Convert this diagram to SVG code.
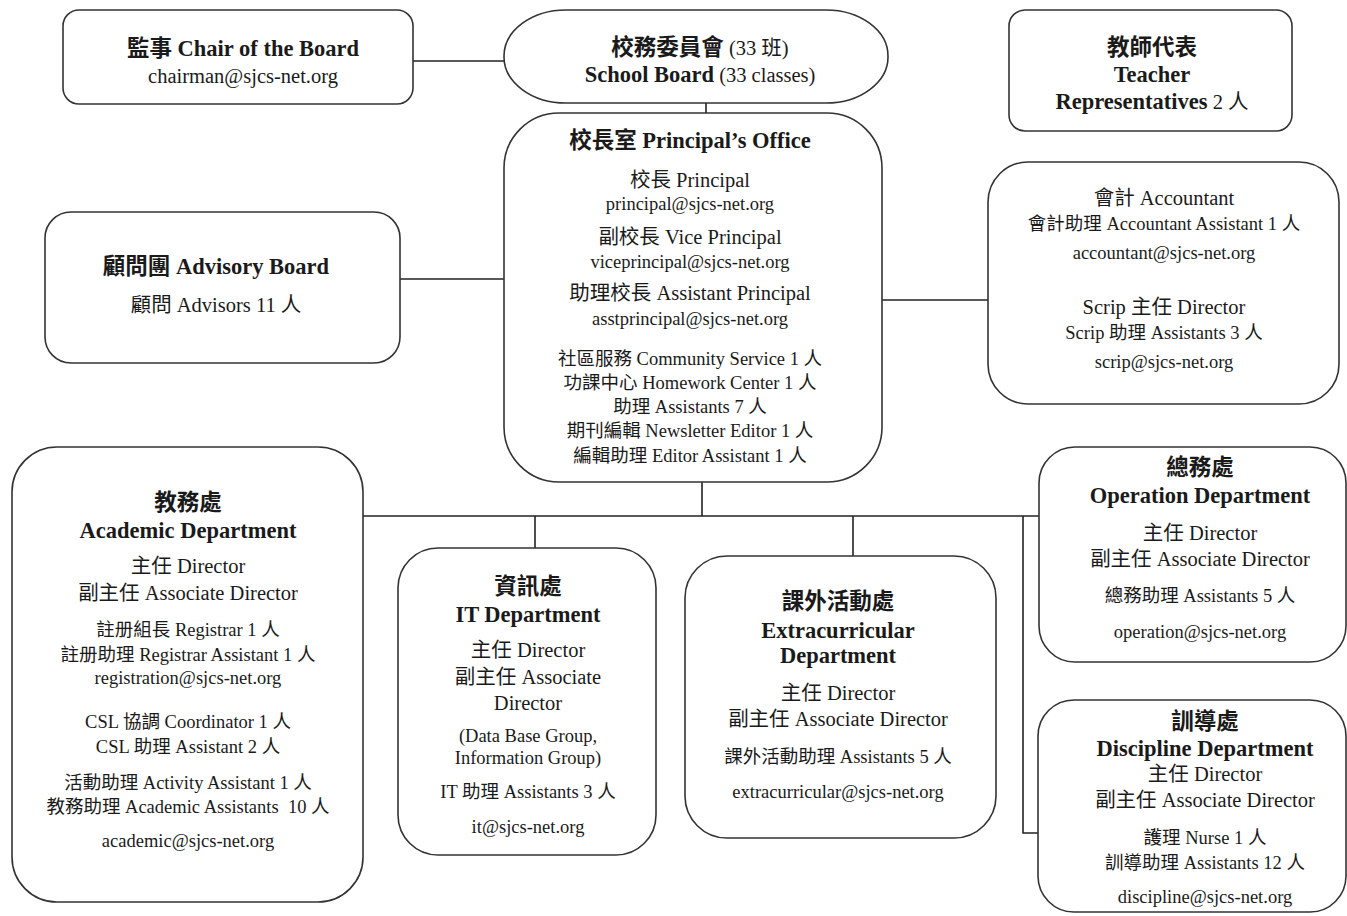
<svg xmlns="http://www.w3.org/2000/svg" width="1347" height="916" viewBox="0 0 1347 916">
<style>
text{font-family:"Liberation Serif","Noto Sans CJK TC",serif;fill:#1a1a1a;text-anchor:middle}
.b{font-weight:bold;font-size:22.5px}
.m{font-size:20.5px}
.s{font-size:18.5px}
.box{fill:#fff;stroke:#333;stroke-width:1.6}
.ln{stroke:#222;stroke-width:1.6;fill:none}
</style>
<rect width="1347" height="916" fill="#fff"/>
<g id="connectors">
<line class="ln" x1="413" y1="61" x2="504" y2="61"/>
<line class="ln" x1="706" y1="103" x2="706" y2="113"/>
<line class="ln" x1="400" y1="279" x2="504" y2="279"/>
<line class="ln" x1="882" y1="300" x2="988" y2="300"/>
<line class="ln" x1="702" y1="482" x2="702" y2="516"/>
<line class="ln" x1="363" y1="516" x2="1039" y2="516"/>
<line class="ln" x1="535" y1="516" x2="535" y2="548"/>
<line class="ln" x1="853" y1="516" x2="853" y2="556"/>
<polyline class="ln" points="1023,516 1023,833 1038,833"/>
</g>
<g id="chair">
<rect class="box" x="63" y="10" width="350" height="94" rx="16"/>
<text class="b" x="243" y="56">監事 Chair of the Board</text>
<text class="m" x="243" y="83">chairman@sjcs-net.org</text>
</g>
<g id="school-board">
<rect class="box" x="504" y="10" width="384" height="93" rx="62" ry="46"/>
<text x="700" y="55"><tspan class="b">校務委員會</tspan><tspan class="m"> (33 班)</tspan></text>
<text x="700" y="82"><tspan class="b">School Board</tspan><tspan class="m"> (33 classes)</tspan></text>
</g>
<g id="teacher-reps">
<rect class="box" x="1009" y="10" width="283" height="121" rx="16"/>
<text class="b" x="1152" y="55">教師代表</text>
<text class="b" x="1152" y="82">Teacher</text>
<text x="1152" y="109"><tspan class="b">Representatives</tspan><tspan class="m"> 2 人</tspan></text>
</g>
<g id="principal">
<rect class="box" x="504" y="113" width="378" height="369" rx="55"/>
<text class="b" x="690" y="148">校長室 Principal’s Office</text>
<text class="m" x="690" y="187">校長 Principal</text>
<text class="s" x="690" y="210">principal@sjcs-net.org</text>
<text class="m" x="690" y="244">副校長 Vice Principal</text>
<text class="s" x="690" y="268">viceprincipal@sjcs-net.org</text>
<text class="m" x="690" y="300">助理校長 Assistant Principal</text>
<text class="s" x="690" y="325">asstprincipal@sjcs-net.org</text>
<text class="s" x="690" y="365">社區服務 Community Service 1 人</text>
<text class="s" x="690" y="389">功課中心 Homework Center 1 人</text>
<text class="s" x="690" y="413">助理 Assistants 7 人</text>
<text class="s" x="690" y="437">期刊編輯 Newsletter Editor 1 人</text>
<text class="s" x="690" y="462">編輯助理 Editor Assistant 1 人</text>
</g>
<g id="advisory">
<rect class="box" x="45" y="212" width="355" height="151" rx="26"/>
<text class="b" x="216" y="274">顧問團 Advisory Board</text>
<text class="m" x="216" y="312">顧問 Advisors 11 人</text>
</g>
<g id="accountant">
<rect class="box" x="988" y="162" width="351" height="242" rx="40"/>
<text class="m" x="1164" y="205">會計 Accountant</text>
<text class="s" x="1164" y="230">會計助理 Accountant Assistant 1 人</text>
<text class="s" x="1164" y="259">accountant@sjcs-net.org</text>
<text class="m" x="1164" y="314">Scrip 主任 Director</text>
<text class="s" x="1164" y="339">Scrip 助理 Assistants 3 人</text>
<text class="s" x="1164" y="368">scrip@sjcs-net.org</text>
</g>
<g id="academic">
<rect class="box" x="12" y="447" width="351" height="455" rx="45"/>
<text class="b" x="188" y="510">教務處</text>
<text class="b" x="188" y="538">Academic Department</text>
<text class="m" x="188" y="573">主任 Director</text>
<text class="m" x="188" y="600">副主任 Associate Director</text>
<text class="s" x="188" y="636">註册組長 Registrar 1 人</text>
<text class="s" x="188" y="661">註册助理 Registrar Assistant 1 人</text>
<text class="s" x="188" y="684">registration@sjcs-net.org</text>
<text class="s" x="188" y="728">CSL 協調 Coordinator 1 人</text>
<text class="s" x="188" y="753">CSL 助理 Assistant 2 人</text>
<text class="s" x="188" y="789">活動助理 Activity Assistant 1 人</text>
<text class="s" x="188" y="813" xml:space="preserve">教務助理 Academic Assistants  10 人</text>
<text class="s" x="188" y="847">academic@sjcs-net.org</text>
</g>
<g id="it">
<rect class="box" x="398" y="548" width="258" height="307" rx="40"/>
<text class="b" x="528" y="594">資訊處</text>
<text class="b" x="528" y="622">IT Department</text>
<text class="m" x="528" y="657">主任 Director</text>
<text class="m" x="528" y="684">副主任 Associate</text>
<text class="m" x="528" y="710">Director</text>
<text class="s" x="528" y="742">(Data Base Group,</text>
<text class="s" x="528" y="764">Information Group)</text>
<text class="s" x="528" y="798">IT 助理 Assistants 3 人</text>
<text class="s" x="528" y="833">it@sjcs-net.org</text>
</g>
<g id="extracurricular">
<rect class="box" x="685" y="556" width="311" height="282" rx="42"/>
<text class="b" x="838" y="609">課外活動處</text>
<text class="b" x="838" y="638">Extracurricular</text>
<text class="b" x="838" y="663">Department</text>
<text class="m" x="838" y="700">主任 Director</text>
<text class="m" x="838" y="726">副主任 Associate Director</text>
<text class="s" x="838" y="763">課外活動助理 Assistants 5 人</text>
<text class="s" x="838" y="798">extracurricular@sjcs-net.org</text>
</g>
<g id="operation">
<rect class="box" x="1039" y="447" width="307" height="215" rx="36"/>
<text class="b" x="1200" y="475">總務處</text>
<text class="b" x="1200" y="503">Operation Department</text>
<text class="m" x="1200" y="540">主任 Director</text>
<text class="m" x="1200" y="566">副主任 Associate Director</text>
<text class="s" x="1200" y="602">總務助理 Assistants 5 人</text>
<text class="s" x="1200" y="638">operation@sjcs-net.org</text>
</g>
<g id="discipline">
<rect class="box" x="1038" y="700" width="308" height="212" rx="36"/>
<text class="b" x="1205" y="729">訓導處</text>
<text class="b" x="1205" y="756">Discipline Department</text>
<text class="m" x="1205" y="781">主任 Director</text>
<text class="m" x="1205" y="807">副主任 Associate Director</text>
<text class="s" x="1205" y="844">護理 Nurse 1 人</text>
<text class="s" x="1205" y="869">訓導助理 Assistants 12 人</text>
<text class="s" x="1205" y="903">discipline@sjcs-net.org</text>
</g>
</svg>
